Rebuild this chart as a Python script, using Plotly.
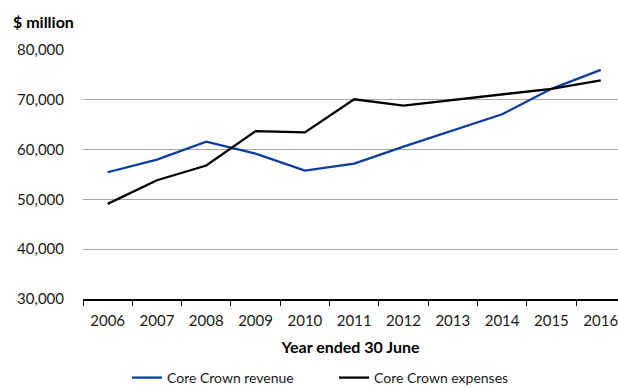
import plotly.graph_objects as go

years = ["2006", "2007", "2008", "2009", "2010", "2011", "2012", "2013", "2014", "2015", "2016"]
revenue = [55450, 58000, 61600, 59200, 55800, 57200, 60600, 63800, 67100, 72200, 76000]
expenses = [49100, 53850, 56800, 63700, 63450, 70100, 68850, 70000, 71100, 72200, 73900]

FONT = "Lato, 'Liberation Sans', sans-serif"

fig = go.Figure()
fig.add_trace(go.Scatter(x=years, y=revenue, mode="lines", name="Core Crown revenue",
                         line=dict(color="#0b3c9e", width=2.3)))
fig.add_trace(go.Scatter(x=years, y=expenses, mode="lines", name="Core Crown expenses",
                         line=dict(color="#000000", width=2.3)))

fig.update_layout(
    width=618, height=388,
    margin=dict(l=83, r=0, t=50, b=89),
    paper_bgcolor="white", plot_bgcolor="white",
    font=dict(family=FONT, size=15, color="#1a1a1a"),
    title=dict(text="<b>$ million</b>", x=13 / 618, xanchor="left", xref="container",
               y=1 - 22 / 388, yanchor="middle", yref="container",
               font=dict(family=FONT, size=16, color="#000")),
    showlegend=True,
    legend=dict(orientation="h", x=127 / 618, xanchor="left", xref="container",
                y=10 / 388, yanchor="middle", yref="container",
                font=dict(family=FONT, size=14, color="#1a1a1a"),
                itemwidth=30, entrywidth=162, tracegroupgap=0),
    xaxis=dict(type="category", range=[-0.5, 10.35], showgrid=False,
               showline=True, linecolor="#000", linewidth=1.5,
               ticks="outside", tickson="boundaries", ticklen=5, tickcolor="#000",
               tickwidth=1, ticklabelstandoff=7,
               title=dict(text="<b>Year ended 30 June</b>", standoff=14,
                          font=dict(family=FONT, size=16, color="#000"))),
    yaxis=dict(range=[30000, 80000], tickvals=[30000, 40000, 50000, 60000, 70000, 80000],
               tickformat=",d", showgrid=True, gridcolor="#a6a6a6", gridwidth=1.2,
               zeroline=False, showline=False, ticks="", ticklabelstandoff=18),
)

fig.write_html("out.html")
